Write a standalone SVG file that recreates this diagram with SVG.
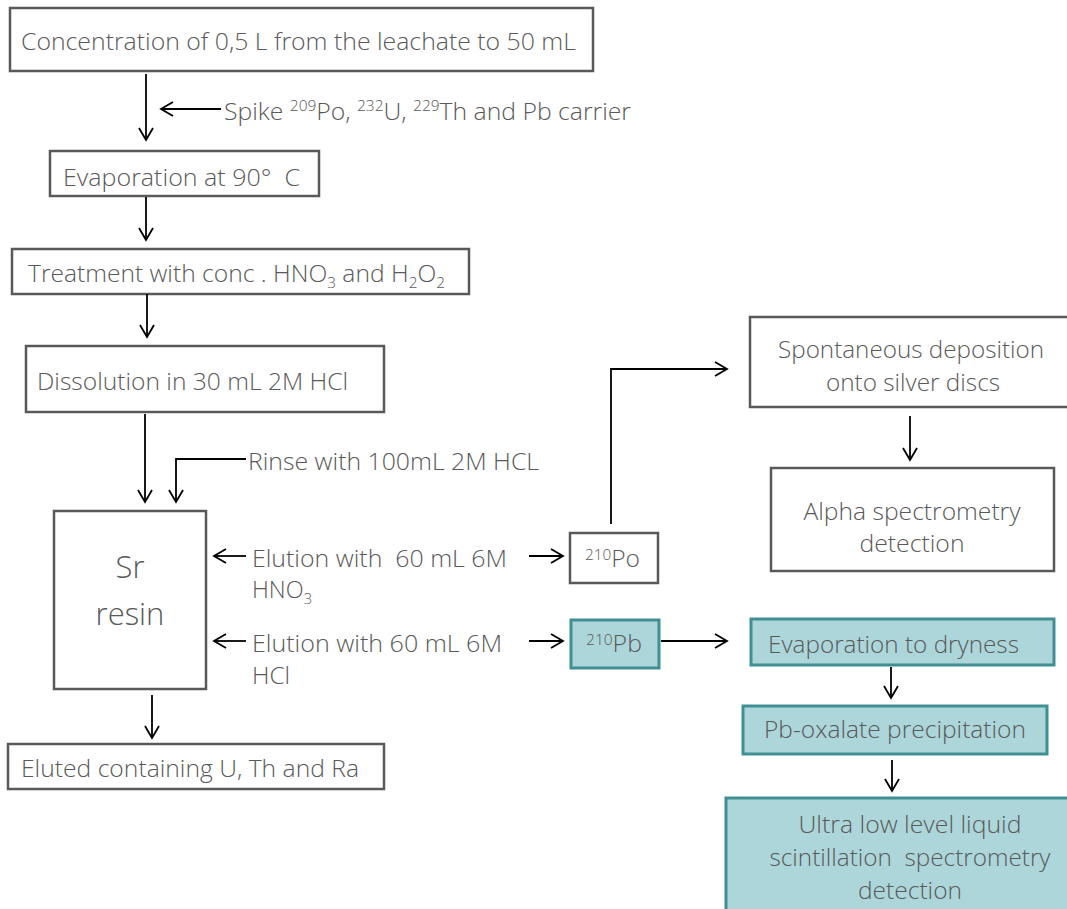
<svg xmlns="http://www.w3.org/2000/svg" width="1067" height="909" viewBox="0 0 1067 909">
<defs>
<marker id="ah" markerUnits="userSpaceOnUse" markerWidth="16" markerHeight="18" viewBox="0 0 16 18" refX="14" refY="9" orient="auto">
<path d="M2,2 L14,9 L2,16" fill="none" stroke="#000" stroke-width="1.8"/>
</marker>
</defs>
<style>
.box{fill:#fff;stroke:#595959;stroke-width:2.5}
.teal{fill:#acd6da;stroke:#3f8f93;stroke-width:3}
.t{font-family:"Open Sans","Liberation Sans",sans-serif;font-size:24px;font-weight:300;fill:#595959}
.big{font-size:31px}
.c{stroke:#000;stroke-width:1.8;fill:none;marker-end:url(#ah)}
.sup{font-size:15px}
</style>
<rect width="1067" height="909" fill="#fff"/>

<g id="n1"><rect class="box" x="10" y="8" width="583" height="63"/>
<text class="t" x="21" y="50" textLength="555" lengthAdjust="spacingAndGlyphs">Concentration of 0,5 L from the leachate to 50 mL</text></g>

<g id="spike"><text class="t" x="224" y="120" textLength="407" lengthAdjust="spacingAndGlyphs">Spike <tspan class="sup" dy="-9">209</tspan><tspan dy="9">Po, </tspan><tspan class="sup" dy="-9">232</tspan><tspan dy="9">U, </tspan><tspan class="sup" dy="-9">229</tspan><tspan dy="9">Th and Pb carrier</tspan></text></g>

<g id="n2"><rect class="box" x="50" y="151" width="269" height="45"/>
<text class="t" x="63" y="186" textLength="237" lengthAdjust="spacingAndGlyphs">Evaporation at 90°&#160;&#160;C</text></g>

<g id="n3"><rect class="box" x="12" y="249" width="457" height="45"/>
<text class="t" x="28" y="282" textLength="417" lengthAdjust="spacingAndGlyphs">Treatment with conc . HNO<tspan class="sup" dy="6">3</tspan><tspan dy="-6"> and H</tspan><tspan class="sup" dy="6">2</tspan><tspan dy="-6">O</tspan><tspan class="sup" dy="6">2</tspan></text></g>

<g id="n4"><rect class="box" x="26" y="346" width="358" height="66"/>
<text class="t" x="37" y="390" textLength="311" lengthAdjust="spacingAndGlyphs">Dissolution in 30 mL 2M HCl</text></g>

<g id="rinse"><text class="t" x="248" y="470" textLength="291" lengthAdjust="spacingAndGlyphs">Rinse with 100mL 2M HCL</text></g>

<g id="sr"><rect class="box" x="54" y="511" width="152" height="178"/>
<text class="t big" x="130" y="578" text-anchor="middle">Sr</text>
<text class="t big" x="130" y="625" text-anchor="middle">resin</text></g>

<g id="el1"><text class="t" x="252" y="567" textLength="255" lengthAdjust="spacingAndGlyphs">Elution with&#160; 60 mL 6M</text>
<text class="t" x="252" y="598" textLength="60" lengthAdjust="spacingAndGlyphs">HNO<tspan class="sup" dy="6">3</tspan></text></g>

<g id="el2"><text class="t" x="252" y="652" textLength="250" lengthAdjust="spacingAndGlyphs">Elution with 60 mL 6M</text>
<text class="t" x="252" y="684" textLength="38" lengthAdjust="spacingAndGlyphs">HCl</text></g>

<g id="n5"><rect class="box" x="8" y="744" width="376" height="45"/>
<text class="t" x="21" y="777" textLength="338" lengthAdjust="spacingAndGlyphs">Eluted containing U, Th and Ra</text></g>

<g id="po"><rect class="box" x="570" y="533" width="88" height="50"/>
<text class="t" x="585" y="567" textLength="55" lengthAdjust="spacingAndGlyphs"><tspan class="sup" dy="-7">210</tspan><tspan dy="7">Po</tspan></text></g>

<g id="spont"><rect class="box" x="750" y="317" width="330" height="90"/>
<text class="t" x="911" y="358" text-anchor="middle" textLength="266" lengthAdjust="spacingAndGlyphs">Spontaneous deposition</text>
<text class="t" x="913" y="391" text-anchor="middle" textLength="174" lengthAdjust="spacingAndGlyphs">onto silver discs</text></g>

<g id="alpha"><rect class="box" x="771" y="468" width="283" height="103"/>
<text class="t" x="912" y="520" text-anchor="middle" textLength="217" lengthAdjust="spacingAndGlyphs">Alpha spectrometry</text>
<text class="t" x="912" y="552" text-anchor="middle" textLength="105" lengthAdjust="spacingAndGlyphs">detection</text></g>

<g id="pb"><rect class="teal" x="571" y="620" width="88" height="48"/>
<text class="t" x="586" y="652" textLength="56" lengthAdjust="spacingAndGlyphs"><tspan class="sup" dy="-7">210</tspan><tspan dy="7">Pb</tspan></text></g>

<g id="evap"><rect class="teal" x="751" y="619" width="303" height="46"/>
<text class="t" x="768" y="653" textLength="251" lengthAdjust="spacingAndGlyphs">Evaporation to dryness</text></g>

<g id="oxal"><rect class="teal" x="743" y="706" width="304" height="48"/>
<text class="t" x="895" y="738" text-anchor="middle" textLength="262" lengthAdjust="spacingAndGlyphs">Pb-oxalate precipitation</text></g>

<g id="ultra"><rect class="teal" x="726" y="798" width="360" height="130"/>
<text class="t" x="910" y="833" text-anchor="middle" textLength="223" lengthAdjust="spacingAndGlyphs">Ultra low level liquid</text>
<text class="t" x="910" y="866" text-anchor="middle" textLength="281" lengthAdjust="spacingAndGlyphs">scintillation&#160; spectrometry</text>
<text class="t" x="910" y="899" text-anchor="middle" textLength="104" lengthAdjust="spacingAndGlyphs">detection</text></g>

<g id="connectors">
<path class="c" d="M146,74 V140"/>
<path class="c" d="M221,109 H161"/>
<path class="c" d="M146,197 V240"/>
<path class="c" d="M147,294 V337"/>
<path class="c" d="M145,414 V502"/>
<path class="c" d="M246,459 H176 V502"/>
<path class="c" d="M246,556 H214"/>
<path class="c" d="M246,641 H214"/>
<path class="c" d="M529,556 H563"/>
<path class="c" d="M529,641 H563"/>
<path class="c" d="M152,695 V738"/>
<path class="c" d="M611,524 V369 H727"/>
<path class="c" d="M910,416 V460"/>
<path class="c" d="M661,641 H727"/>
<path class="c" d="M891,667 V698"/>
<path class="c" d="M892,760 V791"/>
</g>
</svg>
